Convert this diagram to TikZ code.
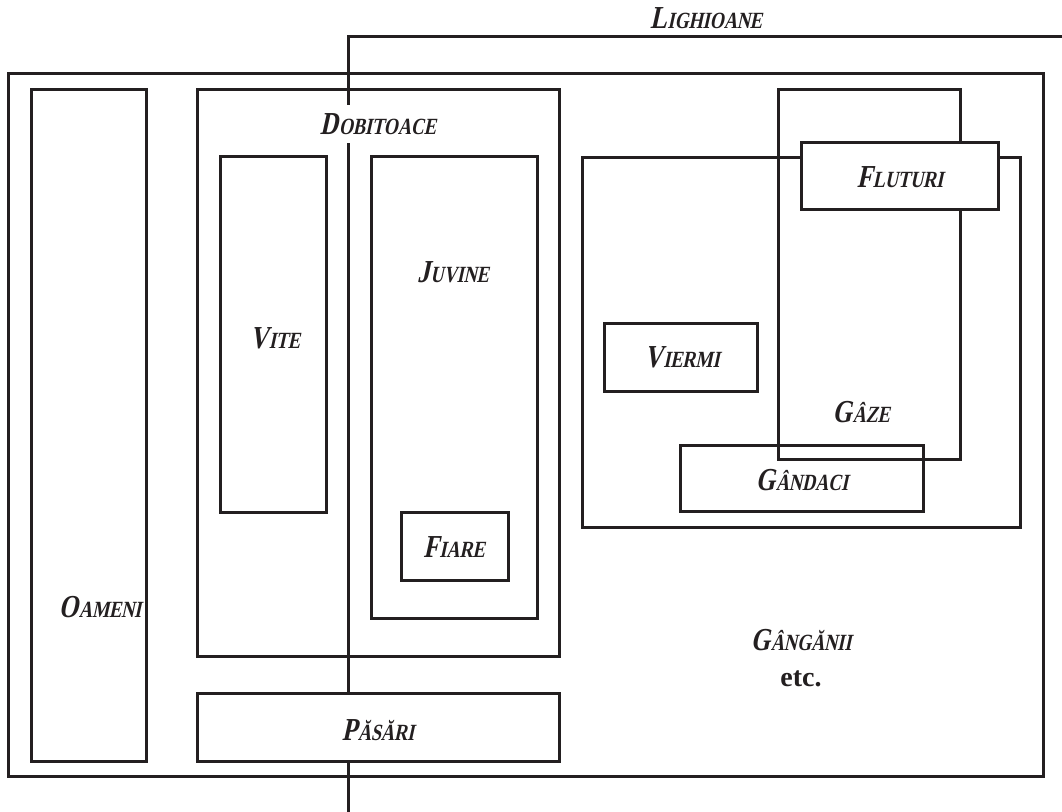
\documentclass[tikz,border=0pt]{standalone}
\usepackage{fontspec}
\setmainfont{Liberation Serif}
\newfontfamily\lnfont{Liberation Serif}[FakeSlant=0.22,FakeStretch=0.78]
\usepackage{tikz}
\definecolor{lnInk}{HTML}{231F20}
% first letter large, the rest as small capitals
\newcommand{\smcap}[2]{{\lnfont\bfseries\fontsize{16}{18}\selectfont#1\kern0.4pt\fontsize{11.6}{14}\selectfont#2}}
\tikzset{
  ln diagram/.style={x=0.5pt, y=-0.5pt, line width=1.5pt,
    draw=lnInk, text=lnInk},
  ln set/.style={draw=lnInk},
  ln cover/.style={draw=lnInk, fill=white},
  ln label/.style={font=\lnfont\bfseries, inner sep=1pt},
  ln tag/.style={ln label, fill=white, inner sep=4pt}
}
\begin{document}
\begin{tikzpicture}[ln diagram]
\useasboundingbox (0,0) rectangle (1062,812);
% lighioane
\draw[ln set] (348,812) |- (1062,37);
\node[ln label] (lighioane) at (706,18) {\smcap{L}{IGHIOANE}};
% outer frame and left column
\draw[ln set] (8,74) rectangle (1043,777);
\draw[ln set] (31,90) rectangle (146,762);
\node[ln label] (oameni) at (100,607) {\smcap{O}{AMENI}};
% dobitoace
\draw[ln set] (197,90) rectangle (559,657);
\node[ln tag] (dobitoace) at (378,124) {\smcap{D}{OBITOACE}};
\draw[ln set] (220,157) rectangle (326,513);
\node[ln label] (vite) at (275,338) {\smcap{V}{ITE}};
\draw[ln set] (371,157) rectangle (537,619);
\node[ln label] (juvine) at (453,272) {\smcap{J}{UVINE}};
\draw[ln set] (401,513) rectangle (508,581);
\node[ln label] (fiare) at (454,547) {\smcap{F}{IARE}};
\draw[ln cover] (197,694) rectangle (559,762);
\node[ln label] (pasari) at (378,730) {\smcap{P}{ĂSĂRI}};
% gangani
\draw[ln set] (582,158) rectangle (1020,528);
\draw[ln set] (778,90) rectangle (960,460);
\node[ln label] (gaze) at (861,412) {\smcap{G}{ÂZE}};
\draw[ln cover] (801,143) rectangle (998,210);
\node[ln label] (fluturi) at (900,177) {\smcap{F}{LUTURI}};
\draw[ln set] (604,324) rectangle (757,392);
\node[ln label] (viermi) at (682,357) {\smcap{V}{IERMI}};
\draw[ln set] (680,446) rectangle (923,512);
\node[ln label] (gandaci) at (802,480) {\smcap{G}{ÂNDACI}};
\node[ln label] (gangani) at (801,640) {\smcap{G}{ÂNGĂNII}};
\node[ln label, font=\rmfamily\bfseries\fontsize{14}{16}\selectfont] (etc) at (801,679) {etc.};
\end{tikzpicture}
\end{document}
